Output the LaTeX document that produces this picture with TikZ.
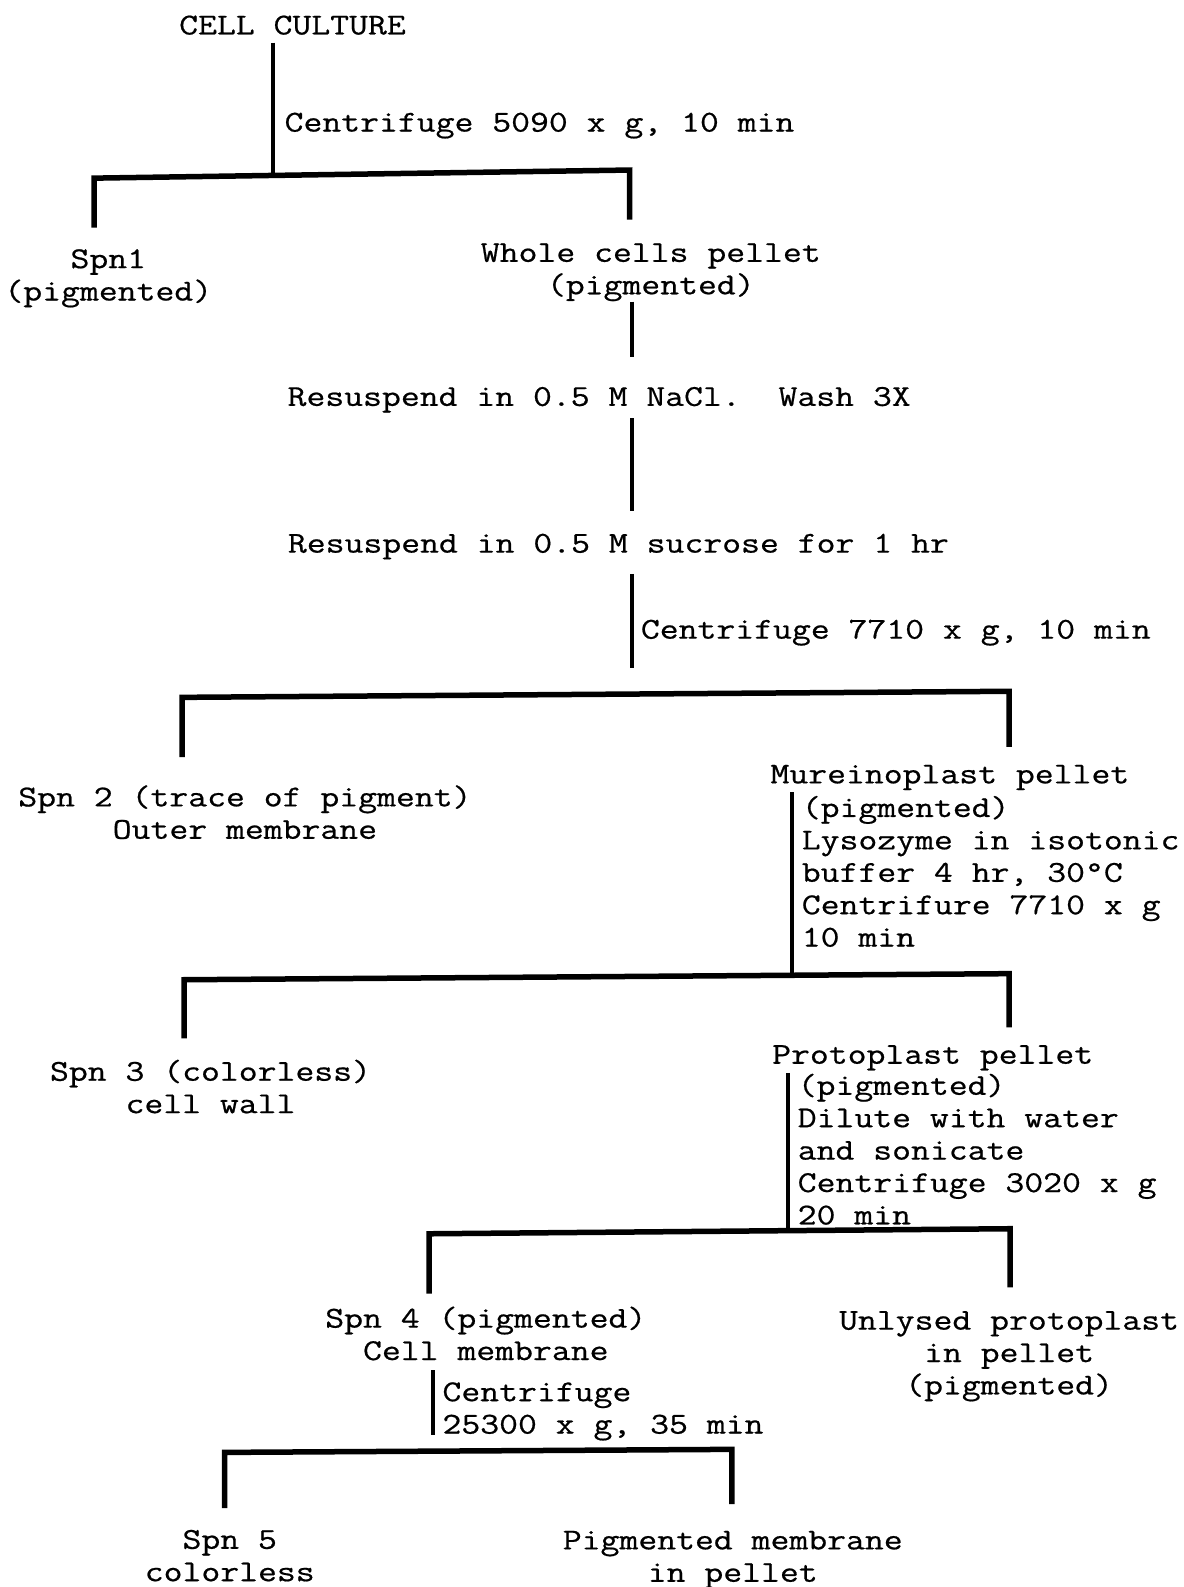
\documentclass[tikz,border=0pt]{standalone}
\usepackage{fontspec}
\setmonofont[FakeStretch=1.21,FakeBold=0.6]{Latin Modern Mono}
\begin{document}
\begin{tikzpicture}[x=1.012pt,y=-1.012pt,
  txt/.style={font=\ttfamily\fontsize{30.3}{32.4}\selectfont, inner sep=0pt},
  one/.style={txt, anchor=base},
  onel/.style={txt, anchor=base west},
  ctr/.style={txt, align=center, anchor=center},
  lft/.style={txt, align=left, anchor=west},
  vline/.style={line width=4pt, line cap=butt},
  bar/.style={line width=5.5pt, line join=miter, line cap=butt}]
\fill[white] (0,0) rectangle (1169,1568);
\useasboundingbox (0,0) rectangle (1169,1568);

% texts
\node[one] (cc) at (289,34) {CELL CULTURE};
\node[onel] (c1) at (281,130) {Centrifuge 5090 x g, 10 min};
\node[ctr] (spn1) at (107,275) {Spn1\\(pigmented)};
\node[ctr] (whole) at (643,269) {Whole cells pellet\\(pigmented)};
\node[one] (nacl) at (592,401) {Resuspend in 0.5 M NaCl.\ \ Wash 3X};
\node[one] (sucr) at (611,546) {Resuspend in 0.5 M sucrose for 1 hr};
\node[onel] (c2) at (633,631) {Centrifuge 7710 x g, 10 min};
\node[ctr] (spn2) at (242,802.5) {Spn 2 (trace of pigment)\\Outer membrane};
\node[one] (murein) at (938.5,774) {Mureinoplast pellet};
\node[lft] (lyso) at (792,861) {(pigmented)\\Lysozyme in isotonic\\buffer 4 hr, 30\textdegree C\\Centrifure 7710 x g\\10 min};
\node[ctr] (spn3) at (208,1073.5) {Spn 3 (colorless)\\cell wall};
\node[one] (proto) at (921.5,1051) {Protoplast pellet};
\node[lft] (dil) at (788,1135.5) {(pigmented)\\Dilute with water\\and sonicate\\Centrifuge 3020 x g\\20 min};
\node[ctr] (spn4) at (480,1317.5) {Spn 4 (pigmented)\\Cell membrane};
\node[ctr] (unly) at (997,1340) {Unlysed protoplast\\in pellet\\(pigmented)};
\node[lft] (c5) at (437,1394.5) {Centrifuge\\25300 x g, 35 min};
\node[ctr] (spn5) at (227,1537) {Spn 5\\colorless};
\node[ctr] (pigm) at (724,1541) {Pigmented membrane\\in pellet};

% coordinates
\coordinate (v1a) at (270,42);   \coordinate (v1b) at (270,173);
\coordinate (b1l) at (93,176);   \coordinate (b1r) at (622,168);
\coordinate (d1l) at (93,225);   \coordinate (d1r) at (622,217);
\coordinate (v2a) at (624,298);  \coordinate (v2b) at (624,353);
\coordinate (v3a) at (624,413);  \coordinate (v3b) at (624,505);
\coordinate (v4a) at (624,567);  \coordinate (v4b) at (624,660);
\coordinate (b2l) at (180,689);  \coordinate (b2r) at (997,683);
\coordinate (d2l) at (180,748);  \coordinate (d2r) at (997,738);
\coordinate (v5a) at (783,783);  \coordinate (v5b) at (783,964);
\coordinate (b3l) at (182,968);  \coordinate (b3r) at (997,962);
\coordinate (d3l) at (182,1026); \coordinate (d3r) at (997,1015);
\coordinate (v6a) at (779,1060); \coordinate (v6b) at (779,1216);
\coordinate (b4l) at (424,1219); \coordinate (b4r) at (998,1214);
\coordinate (d4l) at (424,1278); \coordinate (d4r) at (998,1272);
\coordinate (v7a) at (428,1354); \coordinate (v7b) at (428,1418);
\coordinate (b5l) at (222,1435); \coordinate (b5r) at (723,1432);
\coordinate (d5l) at (222,1490); \coordinate (d5r) at (723,1486);

% connectors
\draw[vline] (v1a) -- (v1b);
\draw[bar] (d1l) -- (b1l) -- (b1r) -- (d1r);
\draw[vline] (v2a) -- (v2b);
\draw[vline] (v3a) -- (v3b);
\draw[vline] (v4a) -- (v4b);
\draw[bar] (d2l) -- (b2l) -- (b2r) -- (d2r);
\draw[vline] (v5a) -- (v5b);
\draw[bar] (d3l) -- (b3l) -- (b3r) -- (d3r);
\draw[vline] (v6a) -- (v6b);
\draw[bar] (d4l) -- (b4l) -- (b4r) -- (d4r);
\draw[vline] (v7a) -- (v7b);
\draw[bar] (d5l) -- (b5l) -- (b5r) -- (d5r);
\end{tikzpicture}
\end{document}
